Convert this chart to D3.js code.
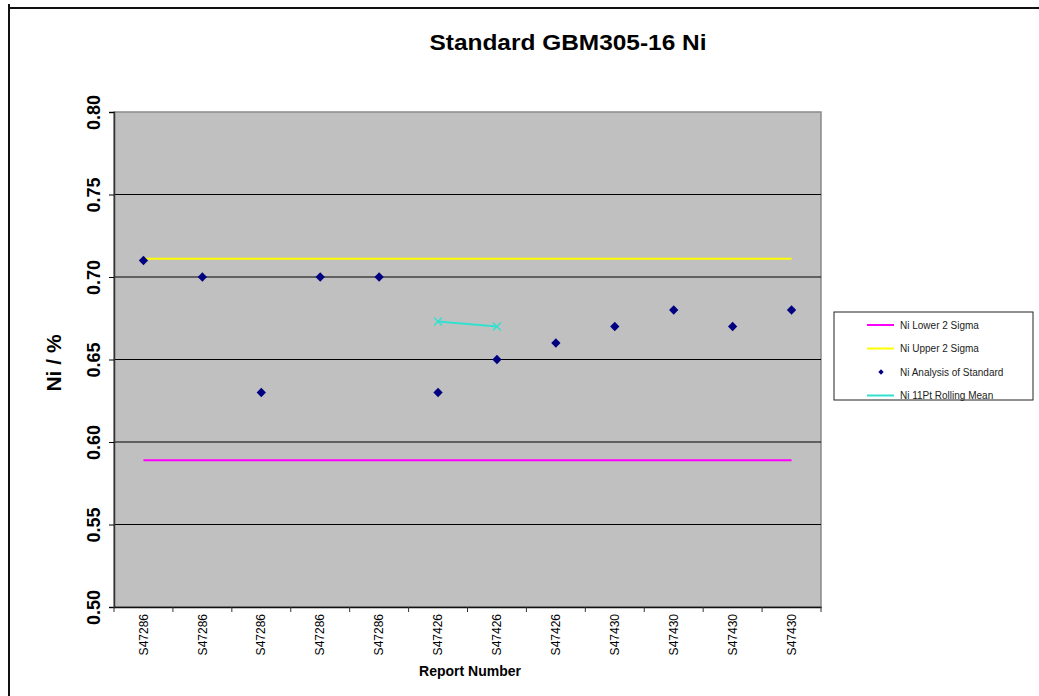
<!DOCTYPE html>
<html>
<head>
<meta charset="utf-8">
<script src="https://cdn.jsdelivr.net/npm/d3@7"></script>
<style>
  body { margin: 0; background: #fff; }
  svg text { font-family: "Liberation Sans", Arial, sans-serif; }
</style>
</head>
<body>
<div id="chart"></div>
<script>
// data
const reports = ["S47286", "S47286", "S47286", "S47286", "S47286", "S47426",
                 "S47426", "S47426", "S47430", "S47430", "S47430", "S47430"];
const niValues = [0.71, 0.70, 0.63, 0.70, 0.70, 0.63, 0.65, 0.66, 0.67, 0.68, 0.67, 0.68];
const lowerSigma = 0.589;
const upperSigma = 0.711;
const rollingIdx = [5, 6];
const rollingMean = [0.673, 0.670];
const yTicks = [0.50, 0.55, 0.60, 0.65, 0.70, 0.75, 0.80];

// plot area
let margin = {top: 112, left: 114};
let width = 821 - 114;
let height = 607 - 112;

let svg = d3.select("#chart")
  .append("svg")
  .attr("width", 1039)
  .attr("height", 696);

// outer frame (only top and left edges are visible)
svg.append("line").attr("x1", 9).attr("x2", 1039).attr("y1", 8).attr("y2", 8)
  .attr("stroke", "#111").attr("stroke-width", 2);
svg.append("line").attr("x1", 9).attr("x2", 9).attr("y1", 4).attr("y2", 696)
  .attr("stroke", "#111").attr("stroke-width", 2);

let g = svg.append("g")
  .attr("transform", "translate(" + margin.left + "," + margin.top + ")");

let x = d3.scaleBand()
  .domain(d3.range(reports.length))
  .range([0, width]);

let y = d3.scaleLinear()
  .domain([0.5, 0.8])
  .range([height, 0]);

let cx = (i) => x(i) + x.bandwidth() / 2;

// background
g.append("rect")
  .attr("width", width)
  .attr("height", height)
  .attr("fill", "#c0c0c0")
  .attr("stroke", "#8a8a8a")
  .attr("stroke-width", 1.5);

// gridlines
g.selectAll(".grid")
  .data(yTicks.filter((d) => d > 0.5 && d < 0.8))
  .enter()
  .append("line")
  .attr("x1", 0)
  .attr("x2", width)
  .attr("y1", (d) => y(d))
  .attr("y2", (d) => y(d))
  .attr("stroke", "#000")
  .attr("stroke-width", 1);

// Y axis
let yAxis = g.append("g")
  .call(d3.axisLeft(y).tickValues(yTicks).tickFormat(d3.format(".2f")).tickSize(5).tickPadding(10));
yAxis.select(".domain").attr("stroke", "#333").attr("stroke-width", 1.5);
yAxis.selectAll("text")
  .attr("transform", "rotate(-90)")
  .attr("x", 0)
  .attr("y", -20)
  .attr("dy", "0.35em")
  .style("text-anchor", "middle")
  .style("font-size", "18px")
  .style("font-weight", "bold")
  .attr("fill", "#000");

// X axis
let xAxis = g.append("g")
  .attr("transform", "translate(0," + height + ")")
  .call(d3.axisBottom(x).tickFormat((i) => reports[i]).tickSize(0));
xAxis.select(".domain").attr("stroke", "#111").attr("stroke-width", 1.5);
xAxis.selectAll("text")
  .attr("transform", "rotate(-90)")
  .attr("x", -7)
  .attr("y", 0)
  .attr("dy", "0.35em")
  .style("text-anchor", "end")
  .style("font-size", "12px")
  .attr("fill", "#000");
// ticks between categories
g.selectAll(".xtick")
  .data(d3.range(reports.length + 1))
  .enter()
  .append("line")
  .attr("x1", (i) => i * x.bandwidth())
  .attr("x2", (i) => i * x.bandwidth())
  .attr("y1", height)
  .attr("y2", height + 5)
  .attr("stroke", "#333");

// sigma lines
g.append("line")
  .attr("x1", cx(0)).attr("x2", cx(reports.length - 1))
  .attr("y1", y(lowerSigma)).attr("y2", y(lowerSigma))
  .attr("stroke", "#ff00ff").attr("stroke-width", 2);
g.append("line")
  .attr("x1", cx(0)).attr("x2", cx(reports.length - 1))
  .attr("y1", y(upperSigma)).attr("y2", y(upperSigma))
  .attr("stroke", "#ffff00").attr("stroke-width", 2);

// rolling mean
let line = d3.line()
  .x((d, k) => cx(rollingIdx[k]))
  .y((d) => y(d));
g.append("path")
  .datum(rollingMean)
  .attr("d", line)
  .attr("fill", "none")
  .attr("stroke", "#33e0d0")
  .attr("stroke-width", 2);
g.selectAll(".rm")
  .data(rollingMean)
  .enter()
  .append("path")
  .attr("transform", (d, k) => "translate(" + cx(rollingIdx[k]) + "," + y(d) + ")")
  .attr("d", "M-4,-4L4,4M-4,4L4,-4")
  .attr("stroke", "#33e0d0")
  .attr("stroke-width", 1.5);

// points
let diamond = d3.symbol().type(d3.symbolDiamond2).size(55);
g.selectAll(".pt")
  .data(niValues)
  .enter()
  .append("path")
  .attr("d", diamond)
  .attr("transform", (d, i) => "translate(" + cx(i) + "," + y(d) + ")")
  .attr("fill", "#000080");

// titles
svg.append("text")
  .attr("x", 568).attr("y", 50)
  .attr("text-anchor", "middle")
  .attr("textLength", 277)
  .attr("lengthAdjust", "spacingAndGlyphs")
  .style("font-size", "22px")
  .style("font-weight", "bold")
  .text("Standard GBM305-16 Ni");

svg.append("text")
  .attr("transform", "translate(61,363) rotate(-90)")
  .attr("text-anchor", "middle")
  .style("font-size", "21px")
  .style("font-weight", "bold")
  .text("Ni / %");

svg.append("text")
  .attr("x", 470).attr("y", 676)
  .attr("text-anchor", "middle")
  .style("font-size", "14px")
  .style("font-weight", "bold")
  .text("Report Number");

// legend
let legendItems = [
  {name: "Ni Lower 2 Sigma", kind: "line", color: "#ff00ff"},
  {name: "Ni Upper 2 Sigma", kind: "line", color: "#ffff00"},
  {name: "Ni Analysis of Standard", kind: "dot", color: "#000080"},
  {name: "Ni 11Pt Rolling Mean", kind: "line", color: "#33e0d0"}
];
let legend = svg.append("g").attr("transform", "translate(834,312)");
legend.append("rect")
  .attr("width", 199).attr("height", 88)
  .attr("fill", "#fff").attr("stroke", "#222").attr("stroke-width", 1);
let li = legend.selectAll(".li")
  .data(legendItems)
  .enter()
  .append("g")
  .attr("transform", (d, i) => "translate(0," + (13 + i * 23.5) + ")");
li.filter((d) => d.kind === "line")
  .append("line")
  .attr("x1", 33).attr("x2", 60)
  .attr("stroke", (d) => d.color).attr("stroke-width", 2);
li.filter((d) => d.kind === "dot")
  .append("path")
  .attr("d", d3.symbol().type(d3.symbolDiamond2).size(18))
  .attr("transform", "translate(47,0)")
  .attr("fill", (d) => d.color);
li.append("text")
  .attr("x", 66).attr("dy", "0.35em")
  .style("font-size", "10px")
  .attr("fill", "#222")
  .text((d) => d.name);
</script>
</body>
</html>
